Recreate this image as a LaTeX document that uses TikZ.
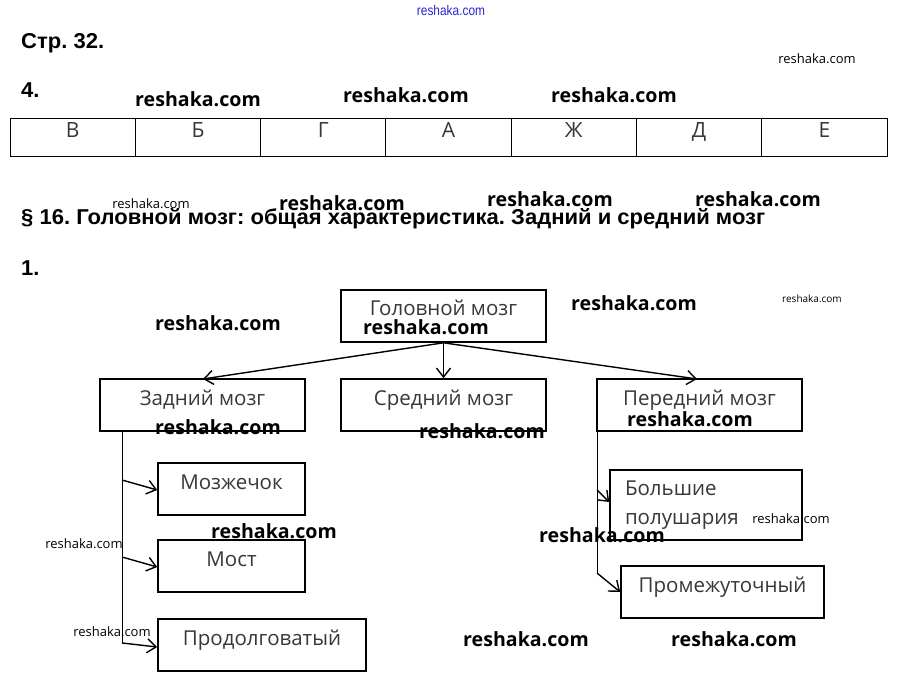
\documentclass[tikz,border=0pt]{standalone}
\usepackage{fontspec}
\setmainfont{Liberation Sans}
\newfontfamily\wmfont{Open Sans}
\newfontfamily\boxfont{Open Sans}
\usetikzlibrary{arrows.meta}
\definecolor{wmblue}{RGB}{40,40,210}
\definecolor{txtgrey}{RGB}{55,55,60}
\frenchspacing
\tikzset{
  wm/.style={font=\wmfont\bfseries\fontsize{19.6}{19.6}\selectfont, inner sep=0pt},
  wmsmall/.style={font=\wmfont\fontsize{13}{13}\selectfont, inner sep=0pt},
  wmtiny/.style={font=\wmfont\fontsize{10}{10}\selectfont, inner sep=0pt},
  head/.style={font=\bfseries\fontsize{21.5}{21.5}\selectfont, anchor=west, inner sep=0pt, xscale=1.025},
  cell/.style={draw, line width=1pt, minimum width=125.3pt, minimum height=38pt, inner sep=0pt,
     font=\boxfont\fontsize{21}{21}\selectfont, text=txtgrey, text height=15pt, text depth=15pt},
  brain/.style={draw, line width=1.6pt, minimum height=52pt, inner sep=0pt,
     font=\boxfont\fontsize{20.5}{20.5}\selectfont, text=txtgrey, text height=14pt, text depth=14pt},
  conn/.style={line width=1.4pt, -{Straight Barb[length=9pt,width=14pt,line width=1.4pt]}},
  trunk/.style={line width=0.9pt},
}
\begin{document}
\begin{tikzpicture}[x=1pt,y=-1pt]
\useasboundingbox[fill=white] (0,0) rectangle (899,692);

% headings
\node[font=\fontsize{14}{14}\selectfont, text=wmblue, inner sep=0pt, xscale=0.85] (wtop) at (451,11) {reshaka.com};
\node[head] (h1) at (21,43) {Стр. 32.};
\node[head] (h2) at (21,90) {4.};
\node[head] (h3) at (21,219) {§ 16. Головной мозг: общая характеристика. Задний и средний мозг};
\node[head] (h4) at (21,268) {1.};

% table
\foreach \L [count=\i] in {В,Б,Г,А,Ж,Д,Е} {
  \node[cell] (c\i) at ({10+125.3*(\i-0.5)},138) {\L};
}

% diagram boxes
\node[brain, minimum width=205pt] (gm) at (443.5,316) {Головной мозг};
\node[brain, minimum width=205pt] (zm) at (202.5,405) {Задний мозг};
\node[brain, minimum width=205pt] (sm) at (443.5,405) {Средний мозг};
\node[brain, minimum width=205pt] (pm) at (699.5,405) {Передний мозг};
\node[brain, minimum width=147pt] (mz) at (231.5,489) {Мозжечок};
\node[brain, minimum width=147pt] (mo) at (231.5,566) {Мост};
\node[brain, minimum width=208pt] (pr) at (262,645) {Продолговатый};
\node[draw, line width=1.6pt, minimum width=192pt, minimum height=70pt, inner sep=0pt,
      font=\boxfont\fontsize{20.5}{29}\selectfont, text=txtgrey, align=left, text width=162pt] (bp) at (706,505)
      {Большие\\полушария};
\node[brain, minimum width=203pt] (pt) at (722.5,592) {Промежуточный};

% connectors
\draw[conn] (gm.south) -- (203,379);
\draw[conn] (gm.south) -- (sm.north);
\draw[conn] (gm.south) -- (697,379);

\coordinate (lz0) at (122,431);
\coordinate (lz1) at (122,480);
\coordinate (lz2) at (122,557);
\coordinate (lz3) at (122,643);
\draw[trunk] (lz0) -- (lz3);
\draw[conn] (lz1) -- (mz.west |- 0,490);
\draw[conn] (lz2) -- (mo.west |- 0,567);
\draw[conn] (lz3) -- (pr.west |- 0,647);

\coordinate (rp0) at (597,431);
\coordinate (rp1) at (597,490);
\coordinate (rp2) at (597,573);
\draw[trunk] (rp0) -- (rp2);
\draw[conn] (rp1) -- (bp.west |- 0,502);
\draw[conn] (rp2) -- (pt.west |- 0,592);

% watermarks
\node[wm] (w1) at (198,99) {reshaka.com};
\node[wm] (w2) at (406,95) {reshaka.com};
\node[wm] (w3) at (614,95) {reshaka.com};
\node[wm] (w4) at (342,203) {reshaka.com};
\node[wm] (w5) at (550,199) {reshaka.com};
\node[wm] (w6) at (758,199) {reshaka.com};
\node[wm] (w7) at (218,323) {reshaka.com};
\node[wm] (w8) at (426,327) {reshaka.com};
\node[wm] (w9) at (634,303) {reshaka.com};
\node[wm] (w10) at (218,427) {reshaka.com};
\node[wm] (w11) at (482,431) {reshaka.com};
\node[wm] (w12) at (690,419) {reshaka.com};
\node[wm] (w13) at (274,531) {reshaka.com};
\node[wm] (w14) at (602,535) {reshaka.com};
\node[wm] (w15) at (526,639) {reshaka.com};
\node[wm] (w16) at (734,639) {reshaka.com};
\node[wmsmall] (s1) at (817,59) {reshaka.com};
\node[wmsmall] (s2) at (151,204) {reshaka.com};
\node[wmsmall] (s3) at (84,544) {reshaka.com};
\node[wmsmall] (s4) at (112,632) {reshaka.com};
\node[wmsmall] (s5) at (791,519) {reshaka.com};
\node[wmtiny] (s6) at (812,299) {reshaka.com};
\end{tikzpicture}
\end{document}
